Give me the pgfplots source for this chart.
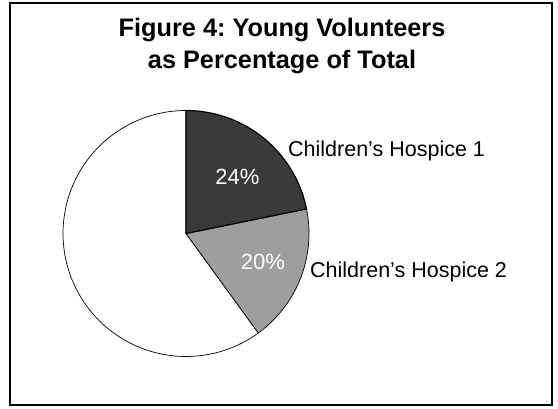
\documentclass[border=0pt]{standalone}
\usepackage{pgfplots}
\pgfplotsset{compat=1.18}
\usepackage{pgfplotstable}
\usepackage{fontspec}
\setmainfont{Liberation Sans}
\frenchspacing
\definecolor{hospone}{RGB}{58,58,58}
\definecolor{hosptwo}{RGB}{158,158,158}

% slice shares as drawn (percent of the circle), start at 12 o'clock, clockwise
\pgfplotstableread{
name   share
one    21.8
two    18.2
rest   60.0
}\slices

\begin{document}
\begin{tikzpicture}
\pgfplotstablegetelem{0}{share}\of\slices \let\sa\pgfplotsretval
\pgfplotstablegetelem{1}{share}\of\slices \let\sb\pgfplotsretval
\pgfmathsetmacro{\aone}{90-3.6*\sa}
\pgfmathsetmacro{\atwo}{\aone-3.6*\sb}
\pgfmathsetmacro{\aend}{90-360}
\def\cx{186}
\def\cy{175.5}
\def\rr{123}
\begin{axis}[
    at={(0,0)}, anchor=south west,
    scale only axis,
    width=558pt, height=409pt,
    xmin=0, xmax=558, ymin=0, ymax=409,
    hide axis,
    clip=false,
]
% white remainder
\addplot[draw=black, line width=0.7pt, fill=white, domain=\aend:\atwo, samples=120]
    ({\cx+\rr*cos(x)}, {\cy+\rr*sin(x)}) -- (axis cs:\cx,\cy) -- cycle;
% Children's Hospice 2
\addplot[draw=black, line width=0.7pt, fill=hosptwo, domain=\atwo:\aone, samples=40]
    ({\cx+\rr*cos(x)}, {\cy+\rr*sin(x)}) -- (axis cs:\cx,\cy) -- cycle;
% Children's Hospice 1
\addplot[draw=black, line width=1.2pt, fill=hospone, domain=\aone:90, samples=40]
    ({\cx+\rr*cos(x)}, {\cy+\rr*sin(x)}) -- (axis cs:\cx,\cy) -- cycle;

\node[white, font=\fontsize{22}{24}\selectfont] at (axis cs:237.5,232) {24\%};
\node[white, font=\fontsize{22}{24}\selectfont] at (axis cs:263,147) {20\%};
\node[anchor=west, inner sep=0pt, font=\fontsize{21.5}{24}\selectfont] at (axis cs:288,258) {Children’s Hospice 1};
\node[anchor=west, inner sep=0pt, font=\fontsize{21.5}{24}\selectfont] at (axis cs:310,137.5) {Children’s Hospice 2};

\node[align=center, font=\bfseries\fontsize{25.3}{32}\selectfont] at (axis cs:282,362.5)
    {Figure 4: Young Volunteers\\as Percentage of Total};

\draw[line width=2pt] (axis cs:10,4) rectangle (axis cs:552,405.5);
\end{axis}
\pgfresetboundingbox
\useasboundingbox (0,0) rectangle (558pt,409pt);
\end{tikzpicture}
\end{document}
